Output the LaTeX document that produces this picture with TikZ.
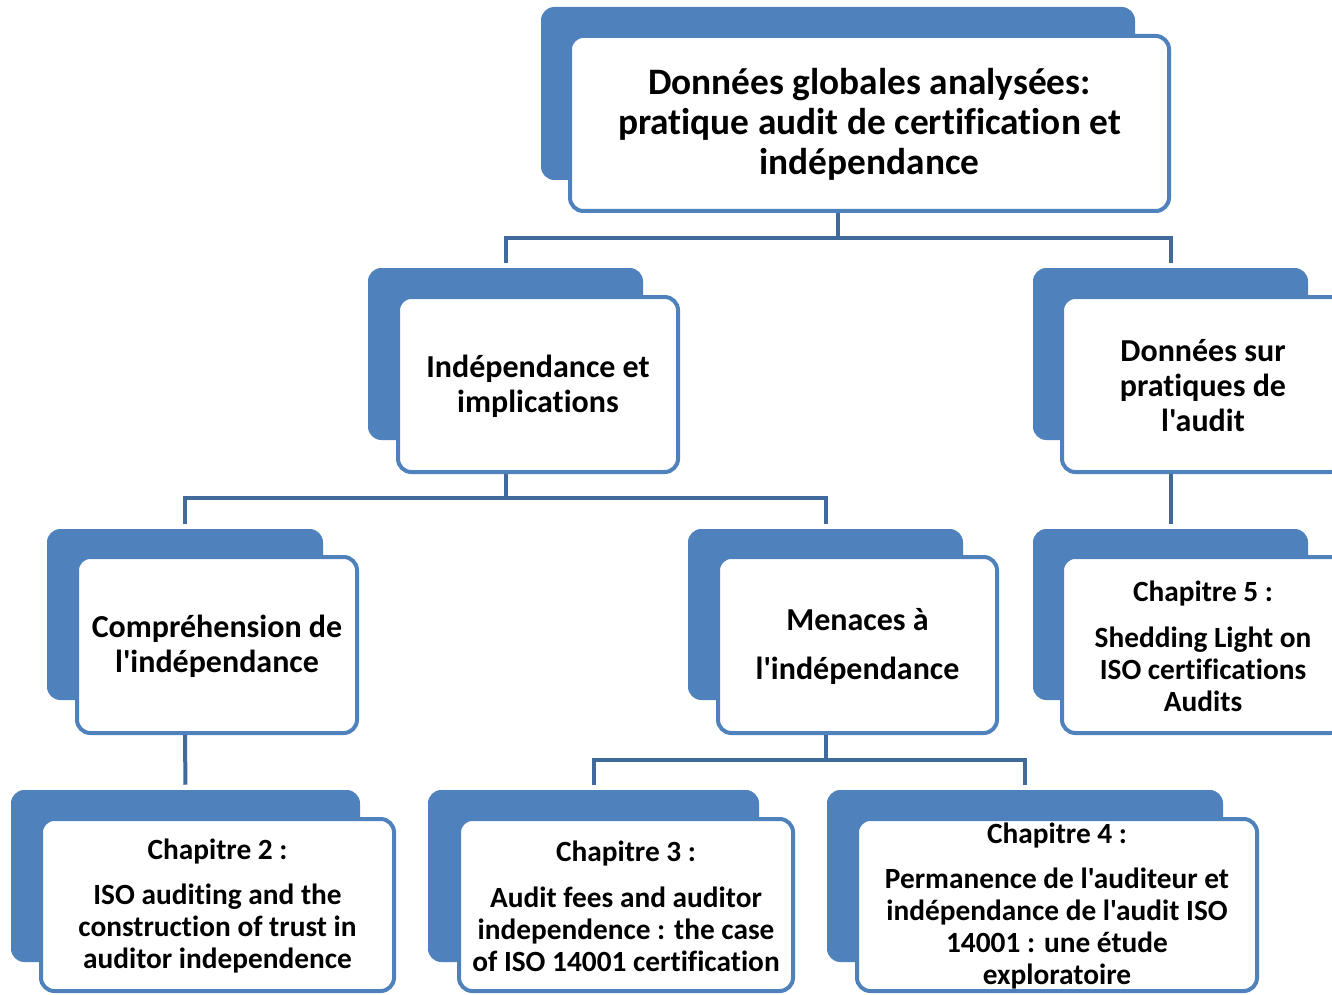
\documentclass[tikz,border=0pt]{standalone}
\usepackage{fontspec}
\setmainfont{Carlito}[Ligatures={TeXOff,NoCommon}]
\usetikzlibrary{fit}
\definecolor{acc}{RGB}{79,129,189}
\definecolor{lnk}{RGB}{64,106,156}

\begin{document}
\begin{tikzpicture}[x=0.75pt,y=-0.75pt,
  backbox/.style={fill=acc, rounded corners=10pt, inner sep=0pt},
  frontbox/.style={draw=acc, line width=3pt, fill=white, rounded corners=10pt,
    inner sep=0pt},
  label/.style={align=center, inner sep=0pt, anchor=center, yshift=-1pt},
  conn/.style={draw=lnk, line width=3pt},
  big/.style={font=\fontsize{28}{30}\selectfont\bfseries},
  mid/.style={font=\fontsize{24}{26.25}\selectfont\bfseries},
  small/.style={font=\fontsize{22}{24}\selectfont\bfseries},
]
\useasboundingbox (0,0) rectangle (1332,995);

% shadow tabs behind each box
\node[backbox, fit={(541,7) (1135,180)}] (topb) {};
\node[backbox, fit={(368,268) (643,440)}] (indb) {};
\node[backbox, fit={(1033,268) (1308,440)}] (pratb) {};
\node[backbox, fit={(47,529) (323,700)}] (compb) {};
\node[backbox, fit={(688,529) (963,700)}] (menb) {};
\node[backbox, fit={(1033,529) (1308,700)}] (ch5b) {};
\node[backbox, fit={(11,790) (360,962)}] (ch2b) {};
\node[backbox, fit={(428,790) (759,962)}] (ch3b) {};
\node[backbox, fit={(827,790) (1223,962)}] (ch4b) {};

% white boxes
\node[frontbox, fit={(570,36) (1169,211)}] (top) {};
\node[frontbox, fit={(398,297) (678,472)}] (ind) {};
\node[frontbox, fit={(1062,297) (1344,472)}] (prat) {};
\node[frontbox, fit={(77,557) (357,733)}] (comp) {};
\node[frontbox, fit={(718,557) (997,733)}] (men) {};
\node[frontbox, fit={(1062,557) (1344,733)}] (ch5) {};
\node[frontbox, fit={(41,819) (394,991)}] (ch2) {};
\node[frontbox, fit={(459,819) (793,991)}] (ch3) {};
\node[frontbox, fit={(857,819) (1257,991)}] (ch4) {};

% box texts
\node[label, big] (top-t) at (top.center)
  {Données globales analysées:\\ pratique audit de certification et\\ indépendance};
\node[label, mid] (ind-t) at (ind.center)
  {Indépendance et\\ implications};
\node[label, mid] (prat-t) at (prat.center)
  {Données sur\\ pratiques de\\ l'audit};
\node[label, mid] (comp-t) at (comp.center)
  {Compréhension de\\ l'indépendance};
\node[label, mid] (men-t) at (men.center)
  {Menaces à\\[10pt] l'indépendance};
\node[label, small] (ch5-t) at (ch5.center)
  {Chapitre 5 :\\[10pt] Shedding Light on\\ ISO certifications\\ Audits};
\node[label, small] (ch2-t) at (ch2.center)
  {Chapitre 2 :\\[10pt] ISO auditing and the\\ construction of trust in\\ auditor independence};
\node[label, small] (ch3-t) at (ch3.center)
  {Chapitre 3 :\\[10pt] Audit fees and auditor\\ independence : the case\\ of ISO 14001 certification};
\node[label, small] (ch4-t) at (ch4.center)
  {Chapitre 4 :\\[10pt] Permanence de l'auditeur et\\ indépendance de l'audit ISO\\ 14001 : une étude\\ exploratoire};

% junction levels of the connectors
\coordinate (j1) at (0,238);
\coordinate (j2) at (0,498);
\coordinate (j3) at (0,760);

% connectors
\draw[conn] (topb |- top.south) -- (topb |- j1);
\draw[conn, shorten >=3.75pt] (topb |- j1) -| (indb.north);
\draw[conn, shorten >=3.75pt] (topb |- j1) -| (pratb.north);

\draw[conn] (indb |- ind.south) -- (indb |- j2);
\draw[conn, shorten >=3.75pt] (indb |- j2) -| (compb.north);
\draw[conn, shorten >=3.75pt] (indb |- j2) -| (menb.north);

\draw[conn, shorten >=3.75pt] (pratb |- prat.south) -- (ch5b.north);
\draw[conn, shorten >=3.75pt] (compb |- comp.south) -- (ch2b.north);

\draw[conn] (menb |- men.south) -- (menb |- j3);
\draw[conn, shorten >=3.75pt] (menb |- j3) -| (ch3b.north);
\draw[conn, shorten >=3.75pt] (menb |- j3) -| (ch4b.north);
\end{tikzpicture}
\end{document}
